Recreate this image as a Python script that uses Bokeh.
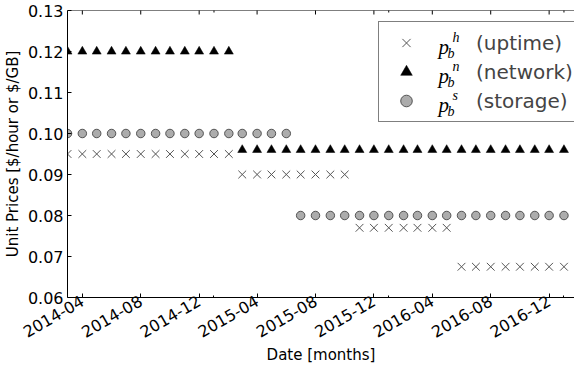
from math import pi
import pandas as pd
from bokeh.plotting import figure
from bokeh.models import (ColumnDataSource, FixedTicker, DatetimeTickFormatter,
                          PrintfTickFormatter, Range1d, Legend, LegendItem, Span)
from bokeh.embed import file_html
from bokeh.resources import INLINE
from bokeh.core.properties import value

# ---------------- data ----------------
months = ["2014-03", "2014-04", "2014-05", "2014-06", "2014-07", "2014-08",
          "2014-09", "2014-10", "2014-11", "2014-12", "2015-01", "2015-02",
          "2015-03", "2015-04", "2015-05", "2015-06", "2015-07", "2015-08",
          "2015-09", "2015-10", "2015-11", "2015-12", "2016-01", "2016-02",
          "2016-03", "2016-04", "2016-05", "2016-06", "2016-07", "2016-08",
          "2016-09", "2016-10", "2016-11", "2016-12", "2017-01", "2017-02"]
uptime = [0.095, 0.095, 0.095, 0.095, 0.095, 0.095, 0.095, 0.095, 0.095, 0.095, 0.095, 0.095,
          0.090, 0.090, 0.090, 0.090, 0.090, 0.090, 0.090, 0.090,
          0.077, 0.077, 0.077, 0.077, 0.077, 0.077, 0.077,
          0.0675, 0.0675, 0.0675, 0.0675, 0.0675, 0.0675, 0.0675, 0.0675, 0.0675]
network = [0.120, 0.120, 0.120, 0.120, 0.120, 0.120, 0.120, 0.120, 0.120, 0.120, 0.120, 0.120,
           0.096, 0.096, 0.096, 0.096, 0.096, 0.096, 0.096, 0.096, 0.096, 0.096, 0.096, 0.096,
           0.096, 0.096, 0.096, 0.096, 0.096, 0.096, 0.096, 0.096, 0.096, 0.096, 0.096, 0.096]
storage = [0.100, 0.100, 0.100, 0.100, 0.100, 0.100, 0.100, 0.100, 0.100, 0.100, 0.100, 0.100,
           0.100, 0.100, 0.100, 0.100,
           0.080, 0.080, 0.080, 0.080, 0.080, 0.080, 0.080, 0.080, 0.080, 0.080, 0.080, 0.080,
           0.080, 0.080, 0.080, 0.080, 0.080, 0.080, 0.080, 0.080]

y_ticks = [0.06, 0.07, 0.08, 0.09, 0.10, 0.11, 0.12, 0.13]
x_major_ticks = ["2014-04", "2014-08", "2014-12", "2015-04", "2015-08", "2015-12",
                 "2016-04", "2016-08", "2016-12"]
x_minor_ticks = ["2015-01", "2016-01", "2017-01"]
x_start, x_end = "2014-03-01", "2017-01-23"
y_start, y_end = 0.06, 0.13

legend_labels = ["(uptime)", "(network)", "(storage)"]
legend_sups = ["h", "n", "s"]
x_label = "Date [months]"
y_label = "Unit Prices [$/hour or $/GB]"


def to_ms(s):
    return (pd.Timestamp(s) - pd.Timestamp("1970-01-01")) // pd.Timedelta("1ms")


dates = [pd.Timestamp(m + "-01") for m in months]
src = ColumnDataSource(dict(date=dates, uptime=uptime, network=network, storage=storage))

FONT = "DejaVu Sans"
MATH_FONT = "Liberation Serif"

p = figure(width=574, height=367, x_axis_type="datetime",
           x_range=Range1d(to_ms(x_start), to_ms(x_end)),
           y_range=Range1d(y_start, y_end),
           output_backend="svg", toolbar_location=None,
           min_border_left=60, min_border_right=0, min_border_top=10, min_border_bottom=0)
p.outline_line_color = None
p.grid.visible = False
p.background_fill_color = "white"
p.border_fill_color = "white"

major_ms = [to_ms(m + "-01") for m in x_major_ticks]
minor_ms = [to_ms(m + "-01") for m in x_minor_ticks]


def style_axis(ax):
    ax.axis_line_color = "black"
    ax.axis_line_width = 1
    ax.major_tick_in = 4
    ax.major_tick_out = 0
    ax.minor_tick_in = 2
    ax.minor_tick_out = 0
    ax.major_tick_line_color = "black"
    ax.minor_tick_line_color = "black"
    ax.major_label_text_font = FONT
    ax.major_label_text_font_size = "16px"
    ax.major_label_text_color = "black"
    ax.axis_label_text_font = FONT
    ax.axis_label_text_font_size = "15px"
    ax.axis_label_text_font_style = "normal"
    ax.axis_label_text_color = "black"


fmt = DatetimeTickFormatter(days="%Y-%m", months="%Y-%m", years="%Y-%m")
xa = p.xaxis[0]
xa.ticker = FixedTicker(ticks=major_ms, minor_ticks=minor_ms)
xa.formatter = fmt
style_axis(xa)
xa.major_label_orientation = pi / 6
xa.major_label_standoff = 2
xa.axis_label = x_label
xa.axis_label_standoff = 0

ya = p.yaxis[0]
ya.ticker = FixedTicker(ticks=y_ticks, minor_ticks=[])
ya.formatter = PrintfTickFormatter(format="%.2f")
style_axis(ya)
ya.major_label_standoff = 4
ya.axis_label = y_label
ya.axis_label_standoff = 3

# top spine with inward ticks (half of each vertical dash is clipped by the frame)
p.add_layout(Span(location=y_end, dimension="width", line_color="black", line_width=1))
top_major = ColumnDataSource(dict(x=major_ms, y=[y_end] * len(major_ms)))
top_minor = ColumnDataSource(dict(x=minor_ms, y=[y_end] * len(minor_ms)))
p.scatter(x="x", y="y", source=top_major, marker="dash", angle=pi / 2, size=8,
          line_color="black", line_width=1)
p.scatter(x="x", y="y", source=top_minor, marker="dash", angle=pi / 2, size=4,
          line_color="black", line_width=1)

r_up = p.scatter(x="date", y="uptime", source=src, marker="x", size=11,
                 line_color="#555555", line_width=1)
r_net = p.scatter(x="date", y="network", source=src, marker="triangle", size=9,
                  fill_color="black", line_color="black", line_width=0.5)
r_sto = p.scatter(x="date", y="storage", source=src, marker="circle", size=8.5,
                  fill_color="#acacac", line_color="#333333", line_width=0.8)

# legend (bottom-left corner, in pixels from the frame's bottom-left)
PAD, GW, GH, SPC, STANDOFF = 6, 42, 29, 0, 49
leg_h = 2 * PAD + 3 * GH + 2 * SPC
FRAME_H = 287
LEG_X, LEG_Y = 311, FRAME_H - 10 - leg_h - 3
legend = Legend(items=[LegendItem(label=value(legend_labels[0]), renderers=[r_up]),
                       LegendItem(label=value(legend_labels[1]), renderers=[r_net]),
                       LegendItem(label=value(legend_labels[2]), renderers=[r_sto])],
                location=(LEG_X, LEG_Y), margin=0, padding=PAD, spacing=SPC,
                glyph_width=GW, glyph_height=GH, label_height=GH, label_standoff=STANDOFF,
                label_text_font=FONT, label_text_font_size="20px",
                label_text_baseline="middle",
                border_line_color="black", border_line_width=1,
                background_fill_color="white", background_fill_alpha=0.0)
p.add_layout(legend)

# math-style symbol p_b^x inside the legend: anchored at the frame's bottom-left
# corner, placed with pixel offsets that follow the legend rows
row_up = [LEG_Y + leg_h - PAD - GH / 2 - i * (GH + SPC) for i in range(3)]
n = len(legend_sups)
math_src_p = ColumnDataSource(dict(x=[to_ms(x_start)] * n, y=[y_start] * n, t=["p"] * n,
                                   xo=[LEG_X + 60] * n, yo=[-(c - 3) for c in row_up]))
math_src_b = ColumnDataSource(dict(x=[to_ms(x_start)] * n, y=[y_start] * n, t=["b"] * n,
                                   xo=[LEG_X + 69] * n, yo=[-(c - 9) for c in row_up]))
math_src_s = ColumnDataSource(dict(x=[to_ms(x_start)] * n, y=[y_start] * n, t=legend_sups,
                                   xo=[LEG_X + 74] * n, yo=[-(c + 7) for c in row_up]))
for s, fs in ((math_src_p, "21px"), (math_src_b, "14px"), (math_src_s, "14px")):
    p.text(x="x", y="y", text="t", x_offset="xo", y_offset="yo", source=s,
           text_font=value(MATH_FONT), text_font_style="italic",
           text_font_size=value(fs), text_baseline="alphabetic", text_align="left",
           text_color="black", level="overlay")

open("out.html", "w").write(file_html(p, INLINE))
